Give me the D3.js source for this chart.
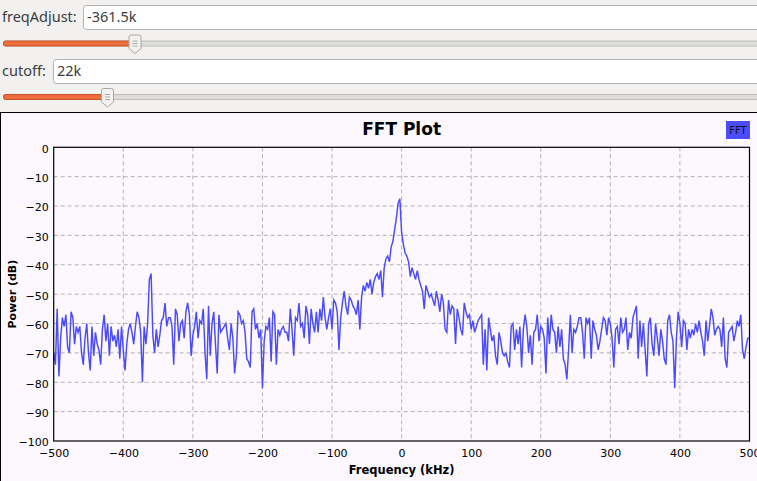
<!DOCTYPE html>
<html>
<head>
<meta charset="utf-8">
<title>FFT Plot</title>
<style>
	body{margin:0;background:#f2f1f0;overflow:hidden}
	svg{display:block}
</style>
</head>
<body>
<svg width=757 height=481 class="fft-view"></svg>
<script src="https://cdn.jsdelivr.net/npm/d3@7"></script>
<script>

// frequency axis of the trace (kHz)
freqStart = -500
freqStep = 2.5

// power (dB), left to right
powerA = [-70,-74,-55,-78,-65,-58,-61,-57,-68,-70,-56,-58,-67,-61,-63,-61,-70,-74,-65,-60,-70,-76,-61,-71,-63,-67,-69,-74,-62,-57,-66,-60,-71,-61,-66,-64,-68,-62,-72,-61,-69,-76,-67,-62,-60,-63,-67,-61,-56,-58,-63,-80,-61,-67,-60,-45,-43,-64,-70,-62,-68,-64,-59,-58,-53,-61,-58]
powerB = [-58,-61,-74,-55,-57,-66,-60,-59,-65,-56,-53,-57,-71,-64,-61,-56,-65,-59,-60,-55,-70,-79,-54,-71,-60,-56,-67,-77,-57,-63,-62,-61,-60,-65,-69,-60,-65,-77,-71,-56,-57,-60,-59,-63,-72,-73,-75,-56,-55,-62,-60,-65,-62,-82,-66,-61,-62,-58,-73,-56,-57,-74,-62,-64,-62,-61,-63]
powerC = [-63,-66,-55,-62,-71,-58,-59,-53,-61,-60,-65,-54,-57,-67,-55,-60,-63,-56,-63,-55,-59,-51,-58,-62,-58,-55,-62,-52,-53,-56,-69,-58,-53,-49,-54,-57,-51,-52,-54,-55,-57,-52,-62,-51,-47,-49,-46,-48,-45,-50,-46,-44,-43,-45,-42,-51,-41,-38,-37,-39,-34,-32,-28,-24,-19,-17.5,-29]
powerD = [-33,-36,-37,-39,-44,-41,-43,-45,-42,-45,-47,-49,-55,-47,-49,-51,-50,-52,-54,-49,-52,-56,-50,-53,-62,-63,-52,-57,-54,-55,-67,-55,-58,-62,-64,-53,-56,-58,-57,-62,-59,-63,-61,-59,-58,-57,-74,-62,-76,-58,-62,-66,-64,-71,-74,-63,-66,-70,-71,-70,-73,-75,-61,-60,-69,-62,-67]
powerE = [-61,-75,-62,-57,-61,-70,-64,-74,-63,-62,-57,-66,-61,-62,-65,-77,-58,-67,-57,-62,-63,-70,-61,-68,-62,-72,-74,-79,-69,-57,-70,-62,-63,-61,-58,-58,-63,-72,-58,-60,-58,-72,-59,-62,-64,-69,-66,-62,-58,-59,-64,-58,-60,-65,-75,-62,-61,-67,-58,-63,-62,-58,-69,-63,-65,-58]
powerF = [-56,-54,-72,-59,-68,-60,-69,-78,-60,-58,-67,-71,-60,-65,-71,-62,-66,-72,-74,-59,-57,-63,-66,-82,-65,-56,-60,-68,-59,-60,-69,-62,-65,-62,-64,-60,-63,-59,-63,-66,-71,-59,-66,-61,-55,-58,-64,-62,-61,-62,-68,-58,-72,-75,-63,-62,-61,-66,-63,-59,-61,-57,-69,-72,-68,-65,-65]

xTicks = [-500,-400,-300,-200,-100,0,100,200,300,400,500]
yTicks = [0,-10,-20,-30,-40,-50,-60,-70,-80,-90,-100]

svg = d3.select('.fft-view')
widgetFont = '"Noto Sans", "DejaVu Sans", sans-serif'
plotFont = '"DejaVu Sans", sans-serif'

// ---- top controls ----
function entry(label, boxX, y, value){
	svg.append('text')
		.attr('x', 2).attr('y', y + 17)
		.attr('font-family', widgetFont).attr('font-size', 14.5)
		.attr('fill', '#3c3c3c')
		.text(label)
	svg.append('rect')
		.attr('x', boxX + 0.5).attr('y', y + 0.5)
		.attr('width', 757 - boxX + 10).attr('height', 24)
		.attr('rx', 3)
		.attr('fill', '#ffffff').attr('stroke', '#b4b3b1')
	svg.append('text')
		.attr('x', boxX + 4).attr('y', y + 17)
		.attr('font-family', widgetFont).attr('font-size', 14.5)
		.attr('fill', '#3c3c3c')
		.text(value)
}

function slider(cy, hx){
	svg.append('rect')
		.attr('x', 3.5).attr('y', cy - 2.5)
		.attr('width', 770).attr('height', 5)
		.attr('rx', 2)
		.attr('fill', '#dedddb').attr('stroke', '#bdbcba')
	svg.append('rect')
		.attr('x', 3.5).attr('y', cy - 2.5)
		.attr('width', hx - 3).attr('height', 5)
		.attr('rx', 2)
		.attr('fill', '#ee6d3c').attr('stroke', '#c7542a')
	var top = cy - 8.5, bot = cy + 5
	svg.append('path')
		.attr('d', 'M' + (hx - 6) + ',' + (top + 2) + ' Q' + (hx - 6) + ',' + top + ' ' + (hx - 4) + ',' + top +
			' L' + (hx + 4) + ',' + top + ' Q' + (hx + 6) + ',' + top + ' ' + (hx + 6) + ',' + (top + 2) +
			' L' + (hx + 6) + ',' + bot + ' L' + hx + ',' + (bot + 5) + ' L' + (hx - 6) + ',' + bot + ' Z')
		.attr('fill', '#f3f2f1').attr('stroke', '#a9a8a6')
	for (var k = 0; k < 3; k++){
		svg.append('line')
			.attr('x1', hx - 2.5).attr('x2', hx + 2.5)
			.attr('y1', cy - 2.5 + k * 2.5).attr('y2', cy - 2.5 + k * 2.5)
			.attr('stroke', '#9a9997').attr('stroke-width', 0.8)
	}
}

entry('freqAdjust:', 83, 5, '-361.5k')
slider(43.5, 135)
entry('cutoff:', 53, 59, '22k')
slider(97, 107.5)

// ---- plot panel ----
svg.append('rect')
	.attr('x', 0.5).attr('y', 112.5)
	.attr('width', 770).attr('height', 400)
	.attr('fill', '#fdf8fd').attr('stroke', '#000')

margin = {'top':147.3, 'right':7.5, 'bottom':40, 'left':53.7}
plotW = 757 - margin.left - margin.right
plotH = 481 - margin.top - margin.bottom

x = d3.scaleLinear().domain([-500, 500]).range([0, plotW])
y = d3.scaleLinear().domain([-100, 0]).range([plotH, 0])

g = svg.append('g')
	.attr('transform', 'translate(' + margin.left + ',' + margin.top + ')')

// grid
g.append('g').selectAll('line')
	.data(xTicks.slice(1, -1))
	.enter().append('line')
	.attr('x1', function(d){ return x(d) }).attr('x2', function(d){ return x(d) })
	.attr('y1', 0).attr('y2', plotH)
	.attr('stroke', '#b3b1b3').attr('stroke-dasharray', '4,3')

g.append('g').selectAll('line')
	.data(yTicks.slice(1, -1))
	.enter().append('line')
	.attr('x1', 0).attr('x2', plotW)
	.attr('y1', function(d){ return y(d) }).attr('y2', function(d){ return y(d) })
	.attr('stroke', '#b3b1b3').attr('stroke-dasharray', '4,3')

// trace
power = powerA.concat(powerB, powerC, powerD, powerE, powerF)
trace = power.map(function(p, i){ return {'f': freqStart + i * freqStep, 'p': p} })

line = d3.line()
	.x(function(d){ return x(d.f) })
	.y(function(d){ return y(d.p) })

g.append('path')
	.datum(trace)
	.attr('d', line)
	.attr('fill', 'none')
	.attr('stroke', '#4a4aff')
	.attr('stroke-width', 1.45)
	.attr('stroke-linejoin', 'miter')

// frame
g.append('rect')
	.attr('x', 0).attr('y', 0)
	.attr('width', plotW).attr('height', plotH)
	.attr('fill', 'none').attr('stroke', '#000').attr('stroke-width', 1.2)

// axes
xAxis = d3.axisBottom(x).tickValues(xTicks).tickSize(0).tickPadding(6)
yAxis = d3.axisLeft(y).tickValues(yTicks).tickSize(0).tickPadding(5)

gx = g.append('g').attr('transform', 'translate(0,' + plotH + ')').call(xAxis)
gy = g.append('g').call(yAxis)
;[gx, gy].forEach(function(a){
	a.select('.domain').remove()
	a.selectAll('text')
		.attr('font-family', plotFont).attr('font-size', 11)
		.attr('fill', '#000')
})
gy.selectAll('text').attr('dy', '0.45em')
gx.selectAll('text').attr('dy', '0.9em')

// titles
svg.append('text')
	.attr('x', margin.left + plotW / 2).attr('y', 135)
	.attr('text-anchor', 'middle')
	.attr('font-family', plotFont).attr('font-size', 17).attr('font-weight', 'bold')
	.text('FFT Plot')

svg.append('text')
	.attr('x', margin.left + plotW / 2).attr('y', 474)
	.attr('text-anchor', 'middle')
	.attr('font-family', plotFont).attr('font-size', 11.5).attr('font-weight', 'bold')
	.text('Frequency (kHz)')

svg.append('text')
	.attr('transform', 'translate(16,' + (margin.top + plotH / 2) + ') rotate(-90)')
	.attr('text-anchor', 'middle')
	.attr('font-family', plotFont).attr('font-size', 11).attr('font-weight', 'bold')
	.text('Power (dB)')

// legend
svg.append('rect')
	.attr('x', 726).attr('y', 121)
	.attr('width', 24).attr('height', 18)
	.attr('fill', '#4b4bff')
svg.append('text')
	.attr('x', 738).attr('y', 134)
	.attr('text-anchor', 'middle')
	.attr('font-family', plotFont).attr('font-size', 10)
	.attr('fill', '#111')
	.text('FFT')

</script>
</body>
</html>
